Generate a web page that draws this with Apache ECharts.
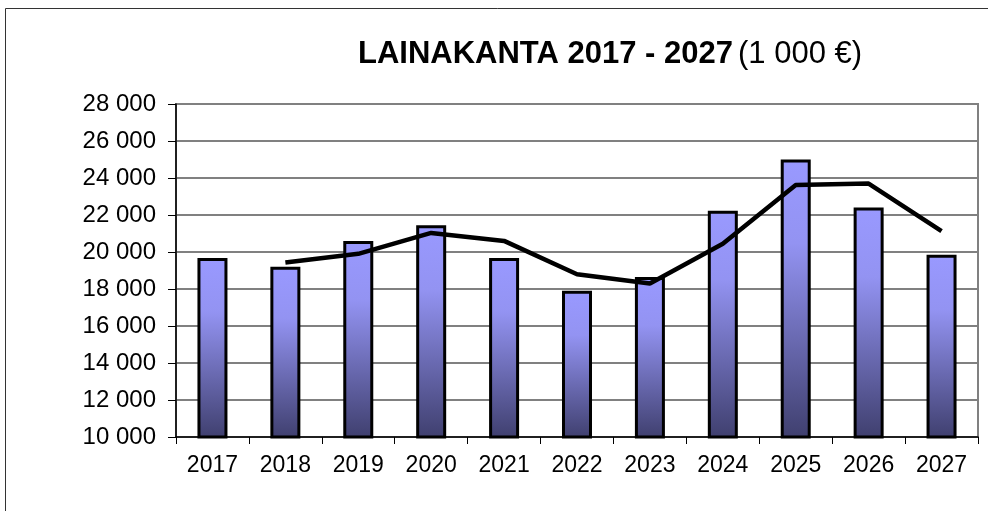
<!DOCTYPE html>
<html>
<head>
<meta charset="utf-8">
<script src="https://cdn.jsdelivr.net/npm/echarts@6/dist/echarts.min.js"></script>
<style>
  html, body { margin: 0; padding: 0; background: #fff; }
  #main { width: 988px; height: 511px; }
</style>
</head>
<body>
<div id="main"></div>
<script>
const years = ['2017', '2018', '2019', '2020', '2021', '2022', '2023', '2024', '2025', '2026', '2027'];
const loanStock = [19680, 19200, 20600, 21450, 19680, 17900, 18650, 22230, 25000, 22400, 19850];
const trendLine = [null, 19430, 19900, 21030, 20600, 18800, 18300, 20450, 23620, 23700, 21130];

const chart = echarts.init(document.getElementById('main'));

const fmt = v => String(v).replace(/\B(?=(\d{3})+(?!\d))/g, ' ');

const option = {
  animation: false,
  backgroundColor: '#fff',
  graphic: [{
    type: 'rect',
    shape: { x: 5.5, y: 8.5, width: 1100, height: 600 },
    style: { fill: 'none', stroke: '#333', lineWidth: 1 },
    silent: true
  }],
  title: {
    text: '{b|LAINAKANTA 2017 - 2027} {n|(1 000 €)}',
    left: 353,
    top: 34,
    textStyle: {
      rich: {
        b: { fontFamily: 'Liberation Sans', fontWeight: 'bold', fontSize: 31, color: '#000' },
        n: { fontFamily: 'Liberation Sans', fontWeight: 'normal', fontSize: 31, color: '#000' }
      }
    }
  },
  grid: {
    left: 176, right: 10, top: 104, bottom: 74,
    show: true, borderColor: '#808080', borderWidth: 2
  },
  xAxis: {
    type: 'category',
    data: years,
    axisLine: { lineStyle: { color: '#000', width: 1.5 } },
    axisTick: { show: true, length: 7, lineStyle: { color: '#000' } },
    axisLabel: { fontFamily: 'Liberation Sans', fontSize: 23, color: '#000', margin: 17 }
  },
  yAxis: {
    type: 'value',
    min: 10000, max: 28000, interval: 2000,
    axisLine: { show: true, lineStyle: { color: '#000', width: 1.5 } },
    axisTick: { show: true, length: 8, lineStyle: { color: '#000' } },
    axisLabel: { fontFamily: 'Liberation Sans', fontSize: 24, color: '#000', margin: 20, formatter: fmt },
    splitLine: { lineStyle: { color: '#808080', width: 2 } }
  },
  series: [
    {
      type: 'bar',
      data: loanStock,
      barWidth: 30,
      itemStyle: {
        borderColor: '#000',
        borderWidth: 3,
        color: new echarts.graphic.LinearGradient(0, 0, 0, 1, [
          { offset: 0, color: '#9999ff' },
          { offset: 0.3, color: '#9393f2' },
          { offset: 1, color: '#3f3f6e' }
        ])
      }
    },
    {
      type: 'line',
      data: trendLine,
      symbol: 'none',
      connectNulls: false,
      lineStyle: { color: '#000', width: 4.5 },
      z: 5
    }
  ]
};

chart.setOption(option);
</script>
</body>
</html>
